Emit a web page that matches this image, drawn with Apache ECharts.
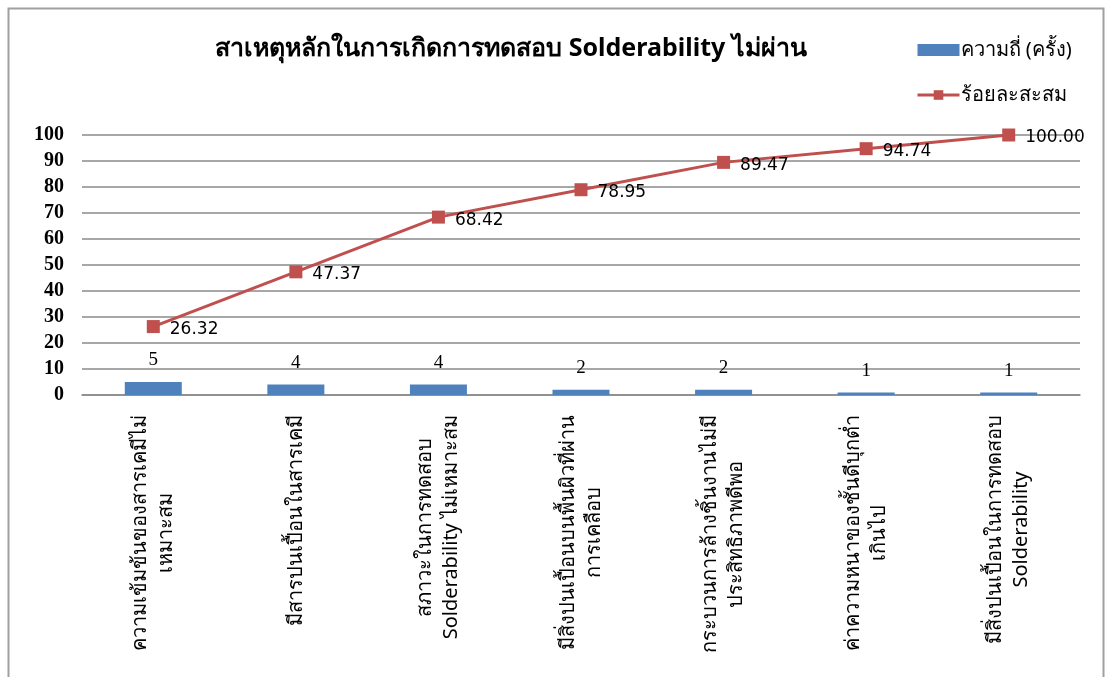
<!DOCTYPE html>
<html>
<head>
<meta charset="utf-8">
<script src="https://cdn.jsdelivr.net/npm/echarts@6/dist/echarts.min.js"></script>
<style>
  html, body { margin: 0; padding: 0; background: #fff; }
  #chart { width: 1108px; height: 677px; }
</style>
</head>
<body>
<div id="chart"></div>
<script>
// Causes of failed Solderability tests (Pareto chart)
const categories = [
  'ความเข้มข้นของสารเคมีไม่\nเหมาะสม',
  'มีสารปนเปื้อนในสารเคมี',
  'สภาวะในการทดสอบ\nSolderability ไม่เหมาะสม',
  'มีสิ่งปนเปื้อนบนพื้นผิวที่ผ่าน\nการเคลือบ',
  'กระบวนการล้างชิ้นงานไม่มี\nประสิทธิภาพดีพอ',
  'ค่าความหนาของชั้นดีบุกต่ำ\nเกินไป',
  'มีสิ่งปนเปื้อนในการทดสอบ\nSolderability'
];
const frequency = [5, 4, 4, 2, 2, 1, 1];
const cumulativePercent = [26.32, 47.37, 68.42, 78.95, 89.47, 94.74, 100.00];
const yTicks = [0, 10, 20, 30, 40, 50, 60, 70, 80, 90, 100];

const thaiFont = '"Noto Sans", "DejaVu Sans", sans-serif';

const chart = echarts.init(document.getElementById('chart'));
chart.setOption({
  backgroundColor: '#ffffff',
  animation: false,
  title: {
    text: 'สาเหตุหลักในการเกิดการทดสอบ Solderability ไม่ผ่าน',
    left: 506,
    top: 31,
    textAlign: 'center',
    textStyle: { fontFamily: thaiFont, fontSize: 25, fontWeight: 'bold', color: '#000' }
  },
  legend: {
    orient: 'vertical',
    left: 911,
    top: 35,
    itemGap: 25,
    itemWidth: 42,
    itemHeight: 12,
    textStyle: { fontFamily: thaiFont, fontSize: 20, color: '#000', padding: [0, 0, 0, -4] },
    data: [
      { name: 'ความถี่ (ครั้ง)', icon: 'rect' },
      { name: 'ร้อยละสะสม', lineStyle: { width: 3 } }
    ]
  },
  graphic: [{
    type: 'rect',
    shape: { x: 8.5, y: 8.5, width: 1095, height: 690 },
    style: { fill: 'none', stroke: '#a0a0a0', lineWidth: 2 },
    silent: true
  }],
  grid: { left: 82, right: 28, top: 135, bottom: 282, containLabel: false },
  xAxis: {
    type: 'category',
    data: categories,
    axisLine: { lineStyle: { color: '#8a8a8a', width: 1.5 } },
    axisTick: { show: false },
    axisLabel: {
      interval: 0,
      rotate: 90,
      margin: 20,
      fontFamily: thaiFont,
      fontSize: 20,
      color: '#000',
      lineHeight: 26,
      formatter: function (v) {
        return v.split('\n').map(function (l) { return '{c|' + l + '}'; }).join('\n');
      },
      rich: { c: { align: 'center', fontFamily: thaiFont, fontSize: 20, lineHeight: 26, color: '#000' } }
    }
  },
  yAxis: {
    type: 'value',
    min: 0,
    max: 100,
    interval: 10,
    axisLine: { show: false },
    axisTick: { show: false },
    splitLine: { lineStyle: { color: '#8a8a8a', width: 1.5 } },
    axisLabel: {
      margin: 18,
      fontFamily: '"Liberation Serif", serif',
      fontWeight: 'bold',
      fontSize: 20,
      color: '#000',
      formatter: function (v) { return yTicks.indexOf(v) >= 0 ? String(v) : ''; }
    }
  },
  series: [
    {
      name: 'ความถี่ (ครั้ง)',
      type: 'bar',
      data: frequency,
      barWidth: 57,
      itemStyle: { color: '#4F81BD' },
      label: {
        show: true,
        position: 'top',
        distance: 12,
        fontFamily: '"Liberation Serif", serif',
        fontSize: 19,
        color: '#000'
      }
    },
    {
      name: 'ร้อยละสะสม',
      type: 'line',
      data: cumulativePercent,
      symbol: 'rect',
      symbolSize: 13,
      lineStyle: { color: '#C0504D', width: 3 },
      itemStyle: { color: '#C0504D' },
      label: {
        show: true,
        position: 'right',
        distance: 10,
        offset: [0, 3],
        fontFamily: '"DejaVu Sans", sans-serif',
        fontSize: 17,
        color: '#000',
        formatter: function (p) { return p.value.toFixed(2); }
      }
    }
  ]
});
</script>
</body>
</html>
